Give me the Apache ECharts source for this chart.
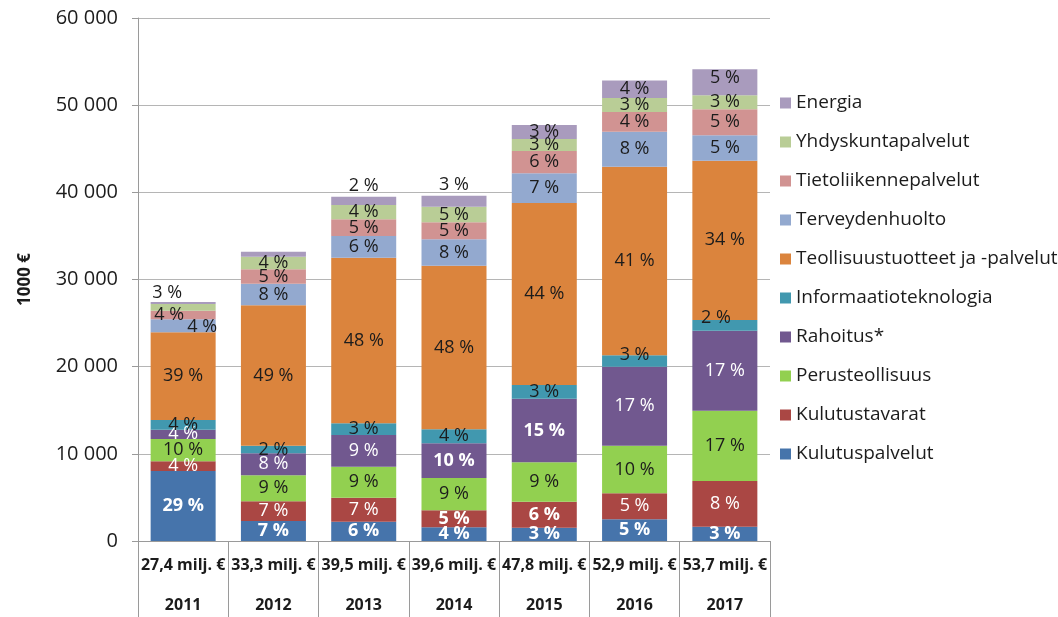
<!DOCTYPE html>
<html>
<head>
<meta charset="utf-8">
<script src="https://cdn.jsdelivr.net/npm/echarts@6/dist/echarts.min.js"></script>
<style>
  html, body { margin: 0; padding: 0; background: #fff; }
  #chart { width: 1058px; height: 617px; }
</style>
</head>
<body>
<div id="chart"></div>
<script>
// vuodet ja kokonaissummat
const years = ["2011", "2012", "2013", "2014", "2015", "2016", "2017"];
const totals = ["27,4 milj. €", "33,3 milj. €", "39,5 milj. €", "39,6 milj. €", "47,8 milj. €", "52,9 milj. €", "53,7 milj. €"];

// toimialat alhaalta ylös (1000 €)
const kulutuspalvelut = [8030, 2290, 2220, 1570, 1530, 2490, 1640];
const kulutustavarat = [1110, 2260, 2750, 1950, 2980, 2980, 5240];
const perusteollisuus = [2560, 2990, 3550, 3710, 4520, 5460, 8070];
const rahoitus = [1070, 2520, 3640, 3980, 7300, 9070, 9180];
const informaatioteknologia = [1110, 870, 1340, 1600, 1570, 1300, 1220];
const teollisuus = [10060, 16110, 19000, 18770, 20870, 21640, 18280];
const terveydenhuolto = [1490, 2480, 2490, 3030, 3410, 4020, 2910];
const tietoliikenne = [990, 1650, 1910, 1950, 2560, 2260, 2980];
const yhdyskunta = [770, 1450, 1650, 1790, 1380, 1600, 1610];
const energia = [230, 570, 950, 1260, 1600, 2010, 2980];

// osuudet (%) kuten kuvassa, "" = ei tekstiä
const pctKulutuspalvelut = ["29", "7", "6", "4", "3", "5", "3"];
const pctKulutustavarat = ["4", "7", "7", "5", "6", "5", "8"];
const pctPerusteollisuus = ["10", "9", "9", "9", "9", "10", "17"];
const pctRahoitus = ["4", "8", "9", "10", "15", "17", "17"];
const pctInformaatio = ["4", "2", "3", "4", "3", "3", "2"];
const pctTeollisuus = ["39", "49", "48", "48", "44", "41", "34"];
const pctTerveys = ["4", "8", "6", "8", "7", "8", "5"];
const pctTieto = ["4", "5", "5", "5", "6", "4", "5"];
const pctYhdyskunta = ["3", "4", "4", "5", "3", "3", "3"];
const pctEnergia = ["", "", "2", "3", "3", "4", "5"];

const FONT = "'Open Sans', 'Noto Sans', sans-serif";
const TXT = "#1c1c1c";

const rows = [
  { name: "Kulutuspalvelut", data: kulutuspalvelut, pct: pctKulutuspalvelut, color: "#4674AB", white: true, bold: [1, 1, 1, 1, 1, 1, 1] },
  { name: "Kulutustavarat", data: kulutustavarat, pct: pctKulutustavarat, color: "#AA4744", white: true, bold: [0, 0, 0, 1, 1, 0, 0] },
  { name: "Perusteollisuus", data: perusteollisuus, pct: pctPerusteollisuus, color: "#92D050" },
  { name: "Rahoitus*", data: rahoitus, pct: pctRahoitus, color: "#71588F", white: true, bold: [0, 0, 0, 1, 1, 0, 0] },
  { name: "Informaatioteknologia", data: informaatioteknologia, pct: pctInformaatio, color: "#4198AF" },
  { name: "Teollisuustuotteet ja -palvelut", data: teollisuus, pct: pctTeollisuus, color: "#DB843D" },
  { name: "Terveydenhuolto", data: terveydenhuolto, pct: pctTerveys, color: "#93A9CF" },
  { name: "Tietoliikennepalvelut", data: tietoliikenne, pct: pctTieto, color: "#D19392" },
  { name: "Yhdyskuntapalvelut", data: yhdyskunta, pct: pctYhdyskunta, color: "#B9CD96" },
  { name: "Energia", data: energia, pct: pctEnergia, color: "#A99BBD" },
];

// tekstien siirrot, jotka kuvassa poikkeavat keskeltä
const labelTweaks = {
  "Yhdyskuntapalvelut": { 0: { position: "top", offset: [-16, 0] } },
  "Tietoliikennepalvelut": { 0: { offset: [-14, 0] } },
  "Terveydenhuolto": { 0: { offset: [19, 1] } },
  "Informaatioteknologia": { 5: { offset: [0, -6] }, 6: { offset: [-9, -7] } },
  "Energia": { 2: { position: "top" }, 3: { position: "top" }, 6: { offset: [0, -4] } },
};

const series = rows.map((r) => ({
  name: r.name,
  type: "bar",
  stack: "total",
  barWidth: 65,
  itemStyle: { color: r.color },
  emphasis: { disabled: true },
  data: r.data.map((v, i) => {
    const tweak = (labelTweaks[r.name] || {})[i] || {};
    return {
      value: v,
      label: {
        show: r.pct[i] !== "",
        position: tweak.position || "inside",
        distance: 2,
        offset: tweak.offset || [0, 0],
        formatter: r.pct[i] + " %",
        color: r.white && !tweak.position ? "#ffffff" : TXT,
        fontWeight: r.bold && r.bold[i] ? "bold" : "normal",
        fontSize: 18,
        fontFamily: FONT,
      },
    };
  }),
}));

const chart = echarts.init(document.getElementById("chart"));
chart.setOption({
  animation: false,
  backgroundColor: "#ffffff",
  grid: { left: 138, right: 288, top: 18, bottom: 76 },
  legend: {
    orient: "vertical",
    left: 775,
    top: 87,
    icon: "rect",
    itemWidth: 11,
    itemHeight: 11,
    itemGap: 17,
    selectedMode: false,
    data: rows.map((r) => r.name).reverse(),
    textStyle: { fontSize: 19, fontFamily: FONT, color: TXT, lineHeight: 22 },
  },
  xAxis: {
    type: "category",
    data: years,
    axisLine: { lineStyle: { color: "#9a9a9a" } },
    axisTick: { show: true, interval: 0, length: 76, lineStyle: { color: "#9a9a9a" } },
    axisLabel: {
      interval: 0,
      margin: 4,
      formatter: (v, i) => "{a|" + totals[i] + "}\n{b|" + v + "}",
      rich: {
        a: { fontSize: 16, fontWeight: "bold", fontFamily: FONT, color: TXT, lineHeight: 40 },
        b: { fontSize: 16, fontWeight: "bold", fontFamily: FONT, color: TXT, lineHeight: 40 },
      },
    },
  },
  yAxis: {
    type: "value",
    min: 0,
    max: 60000,
    interval: 10000,
    name: "1000 €",
    nameLocation: "middle",
    nameRotate: 90,
    nameGap: 104,
    nameTextStyle: { fontSize: 17, fontWeight: "bold", fontFamily: FONT, color: TXT },
    axisLine: { show: true, lineStyle: { color: "#9a9a9a" } },
    axisTick: { show: true, length: 6, lineStyle: { color: "#9a9a9a" } },
    splitLine: { lineStyle: { color: "#b5b5b5" } },
    axisLabel: {
      margin: 20,
      fontSize: 20,
      fontFamily: FONT,
      color: TXT,
      formatter: (v) => (v === 0 ? "0" : v / 1000 + " 000"),
    },
  },
  series: series,
});
window.onresize = function () {
  chart.resize();
};
</script>
</body>
</html>
